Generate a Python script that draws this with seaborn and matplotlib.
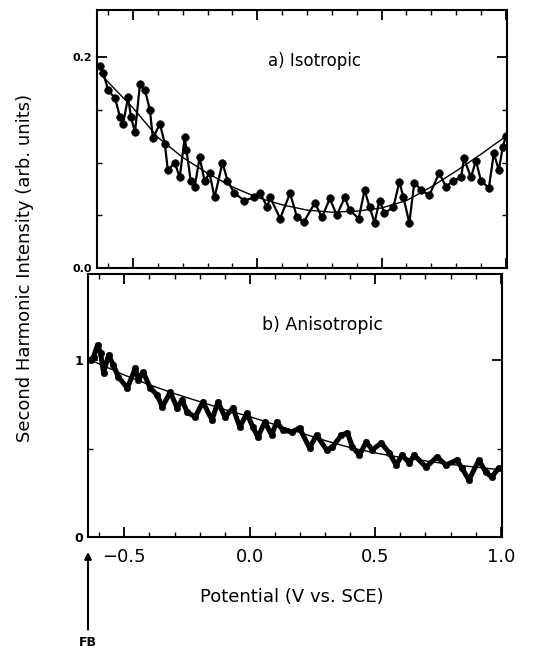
import matplotlib
matplotlib.use("Agg")
import matplotlib.pyplot as plt
import seaborn as sns
import pandas as pd
from matplotlib.ticker import MultipleLocator, FixedLocator

# ---- data ----
top_v = [-0.632, -0.62, -0.60, -0.572, -0.552, -0.54, -0.52, -0.508, -0.492, -0.472,
         -0.452, -0.432, -0.42, -0.392, -0.372, -0.36, -0.332, -0.312, -0.292, -0.285,
         -0.268, -0.252, -0.232, -0.212, -0.192, -0.172, -0.14, -0.12, -0.092, -0.052,
         -0.012, 0.012, 0.04, 0.052, 0.092, 0.132, 0.16, 0.188, 0.232, 0.26,
         0.292, 0.32, 0.352, 0.372, 0.408, 0.432, 0.452, 0.472, 0.492, 0.512,
         0.548, 0.572, 0.588, 0.612, 0.632, 0.66, 0.692, 0.732, 0.76, 0.788,
         0.82, 0.832, 0.86, 0.88, 0.90, 0.932, 0.952, 0.972, 0.988, 1.0]
top_i = [0.192, 0.185, 0.169, 0.161, 0.143, 0.137, 0.162, 0.143, 0.129, 0.175,
         0.169, 0.150, 0.123, 0.137, 0.118, 0.093, 0.100, 0.086, 0.124, 0.112,
         0.083, 0.077, 0.105, 0.083, 0.090, 0.067, 0.100, 0.083, 0.071, 0.064,
         0.067, 0.071, 0.058, 0.067, 0.047, 0.071, 0.048, 0.044, 0.062, 0.048,
         0.066, 0.050, 0.067, 0.055, 0.047, 0.074, 0.058, 0.043, 0.064, 0.052,
         0.058, 0.082, 0.067, 0.043, 0.081, 0.074, 0.069, 0.090, 0.077, 0.083,
         0.086, 0.104, 0.086, 0.102, 0.083, 0.076, 0.109, 0.093, 0.115, 0.125]

bot_v = [-0.635, -0.623, -0.607, -0.595, -0.583, -0.563, -0.544, -0.524, -0.488, -0.456,
         -0.444, -0.425, -0.397, -0.369, -0.349, -0.317, -0.29, -0.27, -0.25, -0.218,
         -0.187, -0.151, -0.127, -0.099, -0.067, -0.04, -0.012, 0.012, 0.032, 0.06,
         0.087, 0.107, 0.131, 0.167, 0.198, 0.238, 0.266, 0.306, 0.329, 0.365,
         0.389, 0.409, 0.437, 0.464, 0.488, 0.524, 0.556, 0.583, 0.607, 0.635,
         0.655, 0.702, 0.746, 0.782, 0.825, 0.845, 0.873, 0.913, 0.94, 0.964, 0.992]
bot_i = [1.0, 1.017, 1.085, 1.04, 0.927, 1.028, 0.972, 0.904, 0.842, 0.955,
         0.887, 0.932, 0.842, 0.802, 0.734, 0.819, 0.729, 0.774, 0.706, 0.678,
         0.763, 0.661, 0.763, 0.678, 0.729, 0.621, 0.70, 0.621, 0.565, 0.65,
         0.576, 0.65, 0.605, 0.593, 0.616, 0.503, 0.576, 0.492, 0.508, 0.576,
         0.588, 0.508, 0.463, 0.537, 0.492, 0.531, 0.475, 0.407, 0.463, 0.418,
         0.463, 0.395, 0.452, 0.407, 0.435, 0.39, 0.322, 0.435, 0.367, 0.339, 0.39]

fit_v = [-0.635, -0.5, -0.4, -0.3, -0.2, -0.1, 0.0, 0.1, 0.2, 0.3, 0.4, 0.5, 0.6, 0.7, 0.8, 0.9, 1.0]
top_fit = [0.185, 0.152, 0.124, 0.105, 0.090, 0.077, 0.067, 0.060, 0.055, 0.053,
           0.054, 0.057, 0.064, 0.077, 0.092, 0.108, 0.125]
bot_fit = [1.0, 0.915, 0.86, 0.81, 0.765, 0.72, 0.68, 0.635, 0.59, 0.545,
           0.505, 0.475, 0.45, 0.43, 0.41, 0.395, 0.38]

x_ticks = [-0.5, 0.0, 0.5, 1.0]
x_ticklabels = ["\u22120.5", "0.0", "0.5", "1.0"]
top_yticks = [0.0, 0.2]
top_yticklabels = ["0.0", "0.2"]
bot_yticks = [0, 1]
bot_yticklabels = ["0", "1"]

sns.set_theme(style="ticks")
plt.rcParams['font.family'] = ['DejaVu Sans']
plt.rcParams.update({"text.color": "black", "axes.labelcolor": "black",
                     "xtick.color": "black", "ytick.color": "black",
                     "xtick.labelcolor": "black", "ytick.labelcolor": "black"})

fig = plt.figure(figsize=(5.34, 6.5), dpi=100)
W, H = 534.0, 650.0
ax1 = fig.add_axes([97 / W, 1 - 268 / H, 410 / W, 258 / H])
ax2 = fig.add_axes([88 / W, 1 - 537 / H, 414 / W, 263 / H])

df_top = pd.DataFrame({"v": top_v, "i": top_i})
df_bot = pd.DataFrame({"v": bot_v, "i": bot_i})
df_tfit = pd.DataFrame({"v": fit_v, "i": top_fit})
df_bfit = pd.DataFrame({"v": fit_v, "i": bot_fit})

# top panel
sns.lineplot(data=df_top, x="v", y="i", ax=ax1, color="black", lw=1.6, sort=False)
sns.scatterplot(data=df_top, x="v", y="i", ax=ax1, color="black", s=30, edgecolor="black")
sns.lineplot(data=df_tfit, x="v", y="i", ax=ax1, color="black", lw=1.0)

# bottom panel
sns.lineplot(data=df_bot, x="v", y="i", ax=ax2, color="black", lw=3.6, sort=False)
sns.scatterplot(data=df_bot, x="v", y="i", ax=ax2, color="black", s=22, edgecolor="black")
sns.lineplot(data=df_bfit, x="v", y="i", ax=ax2, color="black", lw=1.0)

for ax in (ax1, ax2):
    ax.set_xlim(-0.645, 1.005)
    ax.set_xlabel("")
    ax.set_ylabel("")
    ax.xaxis.set_major_locator(FixedLocator(x_ticks))
    ax.xaxis.set_minor_locator(MultipleLocator(0.1))
    ax.tick_params(which="both", direction="in", top=True, right=True, color="black")
    ax.tick_params(which="major", length=7, width=1.3)
    ax.tick_params(which="minor", length=3.5, width=1.0)
    for s in ax.spines.values():
        s.set_linewidth(1.5)
        s.set_color("black")
        s.set_visible(True)

ax1.set_ylim(0, 0.245)
ax1.set_yticks(top_yticks)
ax1.set_yticklabels(top_yticklabels, fontsize=8, fontweight="bold")
ax1.yaxis.set_minor_locator(MultipleLocator(0.05))
ax1.set_xticklabels([])
ax1.text(0.23, 0.197, "a) Isotropic", fontsize=12, ha="center", va="center")

ax2.set_ylim(0, 1.486)
ax2.set_yticks(bot_yticks)
ax2.set_yticklabels(bot_yticklabels, fontsize=9, fontweight="bold")
ax2.yaxis.set_minor_locator(MultipleLocator(0.5))
ax2.set_xticks(x_ticks)
ax2.set_xticklabels(x_ticklabels, fontsize=13)
ax2.tick_params(axis="x", which="major", pad=8)
ax2.text(0.29, 1.2, "b) Anisotropic", fontsize=12.5, ha="center", va="center")

ax2.annotate("FB", xy=(0.0, -0.057), xycoords="axes fraction",
             xytext=(0.0, -0.40), textcoords="axes fraction",
             ha="center", va="center", fontsize=9, fontweight="bold",
             arrowprops=dict(arrowstyle="-|>", color="black", lw=1.5,
                             shrinkA=2, shrinkB=0, mutation_scale=10),
             annotation_clip=False)

fig.text(292 / W, 1 - 597 / H, "Potential (V vs. SCE)", fontsize=13,
         ha="center", va="center")
fig.text(25 / W, 1 - 268 / H, "Second Harmonic Intensity (arb. units)", fontsize=13,
         ha="center", va="center", rotation=90)

fig.savefig("out.png", dpi=100, facecolor="white")
